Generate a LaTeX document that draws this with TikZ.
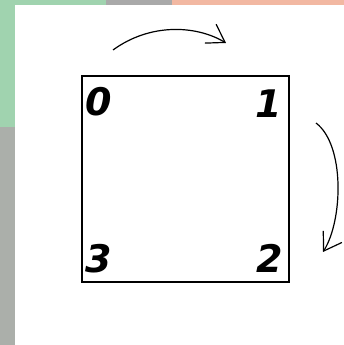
\documentclass[tikz,border=0pt]{standalone}
\usepackage{fontspec}
\setsansfont{DejaVu Sans}
\usetikzlibrary{arrows.meta, positioning, calc}
\definecolor{cgreen}{HTML}{A0D3AF}
\definecolor{cgrey}{HTML}{A9A9A9}
\definecolor{cstrip}{HTML}{ABAFAA}
\definecolor{csalmon}{HTML}{F2B8A2}
\tikzset{
  every picture/.style={x=1pt, y=1pt},
  plate/.style={draw=black, line width=1.6pt, minimum width=207pt, minimum height=206pt, inner sep=0pt},
  digit/.style={font=\sffamily\bfseries\itshape\fontsize{38}{38}\selectfont, inner sep=0pt},
  turn/.style={-{Straight Barb[length=17pt, width=22pt, line width=1.2pt]}, line width=1.2pt, draw=black},
}
\begin{document}
\begin{tikzpicture}
  \useasboundingbox (0,0) rectangle (344,345);
  % background strips
  \fill[cstrip] (0,0) rectangle (15,345);
  \fill[cgreen] (0,218) rectangle (106,345);
  \fill[cgrey] (106,340) rectangle (172,345);
  \fill[csalmon] (172,340) rectangle (344,345);
  \fill[white] (15,0) rectangle (344,340);
  % square and corner numbers
  \node[plate] (plate) at (185.5,166) {};
  \node[digit] (n0) at ($(plate.north west)+(18,-26)$) {0};
  \node[digit] (n1) at ($(plate.north east)+(-21,-28)$) {1};
  \node[digit] (n2) at ($(plate.south east)+(-20,24)$) {2};
  \node[digit] (n3) at ($(plate.south west)+(18,24)$) {3};
  % rotation arrows
  \coordinate (topA) at (113,295);
  \coordinate (topB) at (226,302);
  \coordinate (sideA) at (316,222);
  \coordinate (sideB) at (323,93);
  \draw[turn] (topA) .. controls (150,322) and (196,320) .. (topB);
  \draw[turn] (sideA) .. controls (345,200) and (343,125) .. (sideB);
\end{tikzpicture}
\end{document}
